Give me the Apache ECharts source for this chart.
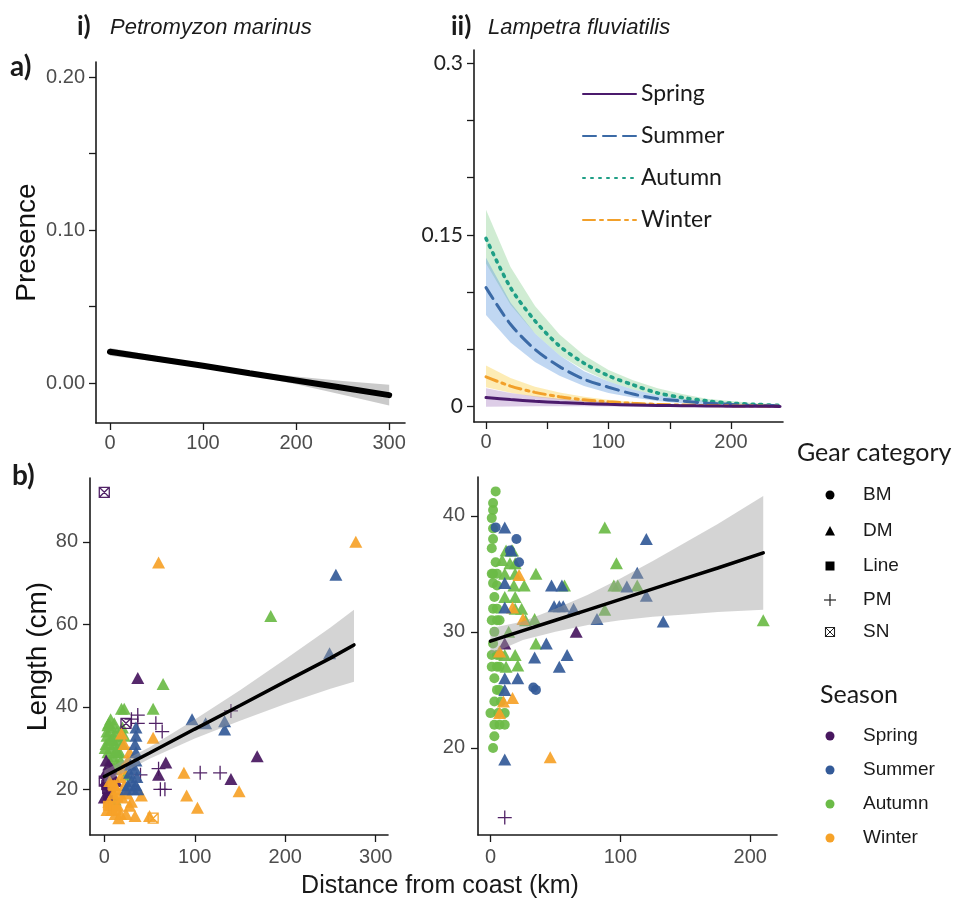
<!DOCTYPE html>
<html><head><meta charset="utf-8">
<script src="https://cdn.jsdelivr.net/npm/echarts@6/dist/echarts.min.js"></script>
<style>html,body{margin:0;padding:0;background:#fff}#c{width:958px;height:910px}</style>
</head><body><div id="c"></div>
<script>
// ================= DATA =================
const seasons = ['Spring', 'Summer', 'Autumn', 'Winter'];
const gears = ['BM', 'DM', 'Line', 'PM', 'SN'];

// a-i) Petromyzon marinus presence vs distance
const pmPresX  = [0, 50, 100, 150, 200, 250, 300];
const pmPresFit = [0.0205, 0.0160, 0.0114, 0.0065, 0.0018, -0.0030, -0.0078];
const pmPresLo  = [0.0180, 0.0142, 0.0102, 0.0053, -0.0007, -0.0075, -0.0146];
const pmPresHi  = [0.0230, 0.0178, 0.0126, 0.0077, 0.0043, 0.0015, -0.0010];

// a-ii) Lampetra fluviatilis presence vs distance, per season
const lfPresX = [0, 20, 40, 60, 80, 100, 120, 140, 160, 180, 200, 220, 240];
const lfSpringFit = [0.0080, 0.0062, 0.0047, 0.0036, 0.0027, 0.0020, 0.0015, 0.0011, 0.0008, 0.0006, 0.0004, 0.0003, 0.0002];
const lfSpringLo  = [0.0000, 0.0002, 0.0003, 0.0003, 0.0003, 0.0002, 0.0002, 0.0001, 0.0001, 0.0001, 0.0000, 0.0000, 0.0000];
const lfSpringHi  = [0.0160, 0.0120, 0.0092, 0.0070, 0.0053, 0.0040, 0.0030, 0.0022, 0.0016, 0.0012, 0.0009, 0.0006, 0.0004];
const lfSummerFit = [0.104, 0.072, 0.050, 0.035, 0.024, 0.017, 0.011, 0.007, 0.005, 0.003, 0.002, 0.001, 0.001];
const lfSummerLo  = [0.080, 0.056, 0.039, 0.027, 0.018, 0.012, 0.008, 0.005, 0.003, 0.002, 0.001, 0.0005, 0.0003];
const lfSummerHi  = [0.130, 0.091, 0.064, 0.045, 0.031, 0.022, 0.015, 0.010, 0.007, 0.005, 0.003, 0.002, 0.001];
const lfAutumnFit = [0.147, 0.104, 0.075, 0.053, 0.038, 0.027, 0.019, 0.012, 0.008, 0.005, 0.003, 0.002, 0.001];
const lfAutumnLo  = [0.125, 0.089, 0.064, 0.045, 0.032, 0.022, 0.015, 0.010, 0.006, 0.004, 0.002, 0.001, 0.0005];
const lfAutumnHi  = [0.172, 0.122, 0.088, 0.063, 0.045, 0.032, 0.023, 0.016, 0.011, 0.007, 0.005, 0.003, 0.002];
const lfWinterFit = [0.026, 0.018, 0.0125, 0.0087, 0.0060, 0.0042, 0.0029, 0.0020, 0.0014, 0.0010, 0.0007, 0.0005, 0.0003];
const lfWinterLo  = [0.017, 0.0121, 0.0086, 0.0060, 0.0041, 0.0028, 0.0019, 0.0013, 0.0009, 0.0006, 0.0004, 0.0003, 0.0002];
const lfWinterHi  = [0.036, 0.025, 0.0175, 0.0123, 0.0086, 0.0060, 0.0042, 0.0029, 0.0020, 0.0014, 0.0010, 0.0007, 0.0005];

// b-i) Petromyzon marinus length: [distance km, length cm, gear, season]
const pmLenPts = [
  [0,92,'SN','Spring'],[24,36,'SN','Spring'],[0,22,'SN','Spring'],[54,13,'SN','Winter'],
  [278,80,'DM','Winter'],[60,75,'DM','Winter'],[256,72,'DM','Summer'],[184,62,'DM','Autumn'],
  [249,53,'DM','Summer'],[37,47,'DM','Spring'],[65,45.5,'DM','Autumn'],[19,39.5,'DM','Autumn'],
  [22,39.5,'DM','Autumn'],[54,39.5,'DM','Autumn'],[97,37,'DM','Summer'],[112,36,'DM','Summer'],
  [133,36.5,'DM','Summer'],[133,34.5,'DM','Summer'],[169,28,'DM','Spring'],[140,22.5,'DM','Spring'],
  [149,19.5,'DM','Winter'],[88,24,'DM','Winter'],[91,18.5,'DM','Winter'],[103,15.5,'DM','Winter'],
  [68,26.5,'DM','Spring'],[60,23.5,'DM','Spring'],[54,32.5,'DM','Winter'],[34,13.5,'DM','Winter'],
  [41,18.5,'DM','Winter'],[50,13.5,'DM','Winter'],
  [140,39,'PM','Spring'],[106,24,'PM','Spring'],[128,24,'PM','Spring'],[62,20,'PM','Spring'],
  [67,20,'PM','Spring'],[60,25,'PM','Spring'],[37,38,'PM','Spring'],[37,36,'PM','Spring'],
  [57,36,'PM','Spring'],[64,34,'PM','Spring'],[40,23.5,'PM','Spring'],[30,37,'PM','Spring'],
  [35,35,'DM','Summer'],[35,33,'DM','Summer'],[34,31,'DM','Summer'],[35,29,'DM','Summer'],
  [35,27,'DM','Summer'],[34,25,'DM','Summer'],[36,23,'DM','Summer'],[35,21,'DM','Summer'],
  [32,20,'DM','Summer'],[37,20,'DM','Summer'],[30,22,'DM','Summer'],[29,26,'DM','Summer'],
  [28,24,'DM','Summer'],[26,21,'DM','Summer'],[24,20,'DM','Summer'],
  [5,36,'DM','Autumn'],[8,35,'DM','Autumn'],[3,34,'DM','Autumn'],[10,33,'DM','Autumn'],
  [6,32,'DM','Autumn'],[2,31,'DM','Autumn'],[12,31,'DM','Autumn'],[8,30,'DM','Autumn'],
  [4,29,'DM','Autumn'],[15,29,'DM','Autumn'],[10,28,'DM','Autumn'],[18,27,'DM','Autumn'],
  [6,27,'DM','Autumn'],[14,34,'DM','Autumn'],[11,36,'DM','Autumn'],[16,32,'DM','Autumn'],
  [20,31,'DM','Autumn'],[3,33,'DM','Autumn'],[7,37,'DM','Autumn'],[13,26,'DM','Autumn'],
  [9,25,'DM','Autumn'],[24,23.5,'DM','Autumn'],[12,17.5,'DM','Autumn'],[20,35,'DM','Autumn'],
  [17,29,'DM','Autumn'],[1,30,'DM','Autumn'],[4,35.5,'DM','Autumn'],[9,32,'DM','Autumn'],
  [13,29.5,'DM','Autumn'],[22,33,'DM','Autumn'],
  [2,27,'DM','Spring'],[5,26,'DM','Spring'],[1,24,'DM','Spring'],[8,25,'DM','Spring'],
  [3,22,'DM','Spring'],[0,18,'DM','Spring'],[6,19,'DM','Spring'],[10,23,'DM','Spring'],
  [13,22,'DM','Spring'],[4,23.5,'DM','Spring'],
  [3,20,'Line','Spring'],[7,20,'Line','Spring'],[4,18,'Line','Spring'],[2,21,'Line','Spring'],
  [5,17,'DM','Winter'],[8,15,'DM','Winter'],[12,14,'DM','Winter'],[15,16,'DM','Winter'],
  [18,14,'DM','Winter'],[20,18,'DM','Winter'],[22,21,'DM','Winter'],[25,19,'DM','Winter'],
  [28,16,'DM','Winter'],[10,19,'DM','Winter'],[14,20,'DM','Winter'],[18,23,'DM','Winter'],
  [26,27,'DM','Winter'],[28,29,'DM','Winter'],[20,25,'DM','Winter'],[6,22,'DM','Winter'],
  [16,13,'DM','Winter'],[24,14,'DM','Winter'],[30,17,'DM','Winter'],[3,15,'DM','Winter'],
  [11,21,'DM','Winter'],[22,31,'DM','Winter'],[19,33.5,'DM','Winter'],
  [4,16,'Line','Winter'],[10,16,'Line','Winter'],[15,18,'Line','Winter'],[9,21,'Line','Winter'],
  [13,15,'Line','Winter']
];
const pmLenFitX  = [0, 50, 100, 150, 200, 250, 276];
const pmLenFit   = [23.1, 28.8, 34.6, 40.3, 46.1, 51.8, 55.0];
const pmLenLo    = [21.6, 27.4, 32.3, 36.6, 40.7, 44.4, 46.1];
const pmLenHi    = [24.6, 30.2, 36.9, 44.0, 51.5, 59.2, 63.5];

// b-ii) Lampetra fluviatilis length
const lfLenPts = [
  [4,42.1,'BM','Autumn'],[2,41.1,'BM','Autumn'],[2,40.5,'BM','Autumn'],[1,39.8,'BM','Autumn'],
  [2,38.9,'BM','Autumn'],[2,38,'BM','Autumn'],[1,37.2,'BM','Autumn'],[4,36,'BM','Autumn'],
  [2,35,'BM','Autumn'],[5,35,'BM','Autumn'],[1,35,'BM','Autumn'],[2,34.2,'BM','Autumn'],
  [5,34,'BM','Autumn'],[3,33,'BM','Autumn'],[2,32,'BM','Autumn'],[5,32,'BM','Autumn'],
  [5,31,'BM','Autumn'],[7,31,'BM','Autumn'],[1,31,'BM','Autumn'],[3,30,'BM','Autumn'],
  [2,29,'BM','Autumn'],[1,28,'BM','Autumn'],[5,28,'BM','Autumn'],[7,28,'BM','Autumn'],
  [1,27,'BM','Autumn'],[5,27,'BM','Autumn'],[7,27,'BM','Autumn'],[3,26,'BM','Autumn'],
  [5,25,'BM','Autumn'],[7,25,'BM','Autumn'],[3,24,'BM','Autumn'],[8,24,'BM','Autumn'],
  [6,23,'BM','Autumn'],[0,23,'BM','Autumn'],[11,23,'BM','Autumn'],[3,22,'BM','Autumn'],
  [7,22,'BM','Autumn'],[11,22,'BM','Autumn'],[3,21,'BM','Autumn'],[2,20,'BM','Autumn'],
  [4,39,'BM','Summer'],[20,38,'BM','Summer'],[22,36,'BM','Summer'],[15,37,'BM','Summer'],
  [33,25.2,'BM','Summer'],[35,25,'BM','Summer'],
  [17,37,'DM','Autumn'],[12,37,'DM','Autumn'],[15,35.9,'DM','Autumn'],[19,35.9,'DM','Autumn'],
  [19,35,'DM','Autumn'],[11,35,'DM','Autumn'],[18,34,'DM','Autumn'],[26,34,'DM','Autumn'],
  [35,35,'DM','Autumn'],[19,33,'DM','Autumn'],[19,32,'DM','Autumn'],[24,32,'DM','Autumn'],
  [27,31,'DM','Autumn'],[34,31.1,'DM','Autumn'],[35,29,'DM','Autumn'],[19,28,'DM','Autumn'],
  [21,27.1,'DM','Autumn'],[12,27,'DM','Autumn'],[57,34,'DM','Autumn'],[88,39,'DM','Autumn'],
  [97,35.9,'DM','Autumn'],[98,34,'DM','Autumn'],[113,34,'DM','Autumn'],[88,31.9,'DM','Autumn'],
  [210,31,'DM','Autumn'],[11,33,'DM','Autumn'],[14,30,'DM','Autumn'],[11,28,'DM','Autumn'],
  [95,34,'DM','Autumn'],[9,36.2,'DM','Autumn'],
  [22,34.9,'DM','Winter'],[17,32.1,'DM','Winter'],[25,31.1,'DM','Winter'],[7,28.3,'DM','Winter'],
  [7,23,'DM','Winter'],[10,24,'DM','Winter'],[17,24.3,'DM','Winter'],[46,19.2,'DM','Winter'],
  [11,39,'DM','Summer'],[11,34.2,'DM','Summer'],[11,32.1,'DM','Summer'],[11,26,'DM','Summer'],
  [11,25,'DM','Summer'],[21,26,'DM','Summer'],[34,27.8,'DM','Summer'],[43,29,'DM','Summer'],
  [47,34,'DM','Summer'],[55,34,'DM','Summer'],[49,32.2,'DM','Summer'],[53,32.2,'DM','Summer'],
  [56,32.2,'DM','Summer'],[59,28,'DM','Summer'],[53,27,'DM','Summer'],[64,32,'DM','Summer'],
  [82,31.1,'DM','Summer'],[120,38,'DM','Summer'],[133,30.9,'DM','Summer'],[113,35.1,'DM','Summer'],
  [120,33.1,'DM','Summer'],[105,33.9,'DM','Summer'],[11,19,'DM','Summer'],[16,37,'DM','Summer'],
  [11,29,'DM','Spring'],[66,30,'DM','Spring'],
  [11,14,'PM','Spring']
];
const lfLenFitX = [0, 25, 50, 75, 100, 125, 150, 175, 210];
const lfLenFit  = [29.2, 30.1, 31.0, 31.9, 32.8, 33.7, 34.6, 35.5, 36.8];
const lfLenLo   = [28.1, 29.3, 30.0, 30.6, 31.0, 31.3, 31.5, 31.7, 31.9];
const lfLenHi   = [30.3, 30.9, 32.0, 33.2, 34.6, 36.1, 37.7, 39.3, 41.7];

// tick values
const pmPresXTicks = [0, 100, 200, 300];
const pmPresYTicks = [0, 0.05, 0.1, 0.15, 0.2];
const pmPresYLabels = [0, 0.1, 0.2];
const lfPresXTicks = [0, 50, 100, 150, 200];
const lfPresXLabels = [0, 100, 200];
const lfPresYTicks = [0, 0.05, 0.1, 0.15, 0.2, 0.25, 0.3];
const lfPresYLabels = [0, 0.15, 0.3];
const pmLenXTicks = [0, 100, 200, 300];
const pmLenYTicks = [20, 40, 60, 80];
const lfLenXTicks = [0, 100, 200];
const lfLenYTicks = [20, 30, 40];

// ================= STYLE =================
const seasonColor = {Spring:'#48175f', Summer:'#335a98', Autumn:'#6bbb47', Winter:'#f6a228'};
const lineColor = {Spring:'#4b1a6c', Summer:'#3b6aa6', Autumn:'#1f9f86', Winter:'#f2a02a'};
const bandColor = {Spring:'rgba(150,100,180,0.32)', Summer:'rgba(90,150,220,0.38)', Autumn:'rgba(120,200,130,0.35)', Winter:'rgba(250,205,60,0.38)'};
const lineDash = {Spring:'solid', Summer:[13,7], Autumn:[2,6], Winter:[12,5,3,5]};
const gearSymbol = {
  BM:'circle', DM:'triangle', Line:'rect',
  PM:'path://M0,5L10,5M5,0L5,10',
  SN:'path://M0,0L10,0L10,10L0,10Z M0,0L10,10 M10,0L0,10'
};
const gearSize = {BM:10, DM:[13,12], Line:10, PM:14, SN:10};
function gearItemStyle(g, c) {
  if (g === 'PM' || g === 'SN') return {color:'none', borderColor:c, borderWidth:1.3, opacity:0.95};
  return {color:c, opacity:0.92};
}

const AX = '#1a1a1a';
const sans = 'Liberation Sans, Arial, sans-serif';
function mkAxis(o) {
  return {
    type:'value', gridIndex:o.grid, min:o.min, max:o.max,
    axisLine:{show:true, onZero:false, lineStyle:{color:AX, width:1.6}},
    axisTick:{show:true, length:7, lineStyle:{color:AX, width:1.3}, customValues:o.ticks},
    splitLine:{show:false},
    axisLabel:{customValues:o.labels || o.ticks, color:o.labelColor || '#4d4d4d', fontFamily:o.font || sans,
               fontSize:o.fontSize || 20, margin:o.margin, formatter:o.fmt || (v => String(v))},
    name:o.name || '', nameLocation:'middle', nameGap:o.nameGap || 0,
    nameTextStyle:{fontFamily:sans, fontSize:28, color:'#111'}
  };
}

function band(name, gi, xs, lo, hi, color, z) {
  return {
    type:'custom', name, xAxisIndex:gi, yAxisIndex:gi, silent:true, z:z,
    data:[[xs[0], lo[0]]],
    renderItem:(params, api) => {
      const pts = [];
      for (let i = 0; i < xs.length; i++) pts.push(api.coord([xs[i], hi[i]]));
      for (let i = xs.length - 1; i >= 0; i--) pts.push(api.coord([xs[i], lo[i]]));
      return {type:'polygon', shape:{points:pts}, style:{fill:color}};
    }
  };
}
function fitLine(name, gi, xs, ys, color, width, dash, z, smooth) {
  return {
    type:'line', name, xAxisIndex:gi, yAxisIndex:gi, data:xs.map((x, i) => [x, ys[i]]),
    symbol:'none', showSymbol:false, smooth:smooth || false, silent:true, z:z,
    lineStyle:{color, width, type:dash || 'solid', cap:'round'}, itemStyle:{color}
  };
}
function scatters(pts, gi, prefix) {
  const out = [];
  ['Autumn', 'Spring', 'Winter', 'Summer'].forEach(s => gears.forEach(g => {
    const d = pts.filter(p => p[2] === g && p[3] === s).map(p => [p[0], p[1]]);
    if (!d.length) return;
    out.push({type:'scatter', name:prefix + ' ' + g + ' ' + s, xAxisIndex:gi, yAxisIndex:gi, data:d,
      symbol:gearSymbol[g], symbolSize:gearSize[g], itemStyle:gearItemStyle(g, seasonColor[s]), z:2, silent:true});
  }));
  return out;
}

// ================= CHART =================
const chart = echarts.init(document.getElementById('c'), null, {renderer:'canvas'});
const lfSeasonData = {
  Spring:[lfSpringFit, lfSpringLo, lfSpringHi], Summer:[lfSummerFit, lfSummerLo, lfSummerHi],
  Autumn:[lfAutumnFit, lfAutumnLo, lfAutumnHi], Winter:[lfWinterFit, lfWinterLo, lfWinterHi]
};

const series = [];
// a-i
series.push(band('pm band', 0, pmPresX, pmPresLo, pmPresHi, 'rgba(150,150,150,0.5)', 1));
series.push(fitLine('pm fit', 0, pmPresX, pmPresFit, '#000', 6, 'solid', 3));
// a-ii
['Autumn', 'Summer', 'Winter', 'Spring'].forEach(s => {
  series.push(band(s + ' band', 1, lfPresX, lfSeasonData[s][1], lfSeasonData[s][2], bandColor[s], 1));
});
['Autumn', 'Summer', 'Winter', 'Spring'].forEach(s => {
  series.push(fitLine(s, 1, lfPresX, lfSeasonData[s][0], lineColor[s], s === 'Autumn' ? 3.6 : 3, lineDash[s], 3, 0.3));
});
// b-i
series.push(...scatters(pmLenPts, 2, 'pm'));
series.push(band('pm len band', 2, pmLenFitX, pmLenLo, pmLenHi, 'rgba(160,160,160,0.45)', 3));
series.push(fitLine('pm len fit', 2, pmLenFitX, pmLenFit, '#000', 3.5, 'solid', 4));
// b-ii
series.push(...scatters(lfLenPts, 3, 'lf'));
series.push(band('lf len band', 3, lfLenFitX, lfLenLo, lfLenHi, 'rgba(160,160,160,0.45)', 3));
series.push(fitLine('lf len fit', 3, lfLenFitX, lfLenFit, '#000', 3.5, 'solid', 4));

// legend graphic (right side)
const legendX = 830, legendTextX = 863;
const gearRowsY = [495, 531, 566, 600, 632];
const seasonRowsY = [736, 770, 804, 838];
const gfx = [];
const txt = (x, y, text, font, extra) => ({type:'text', x, y, style:Object.assign({text, font, fill:'#1a1a1a', textVerticalAlign:'middle'}, extra || {}), silent:true});
gfx.push(txt(10, 67, 'a)', 'bold 28px Lato'));
gfx.push(txt(12, 476, 'b)', 'bold 28px Lato'));
gfx.push(txt(77, 27, 'i)', 'bold 26px Lato'));
gfx.push(txt(110, 28, 'Petromyzon marinus', 'italic 22px ' + sans));
gfx.push(txt(451, 27, 'ii)', 'bold 26px Lato'));
gfx.push(txt(488, 28, 'Lampetra fluviatilis', 'italic 22px ' + sans));
gfx.push(txt(440, 886, 'Distance from coast (km)', '25px ' + sans, {textAlign:'center'}));
gfx.push(txt(797, 453, 'Gear category', '25px Lato'));
gfx.push(txt(820, 695, 'Season', '25px Lato'));
gears.forEach((g, i) => {
  const y = gearRowsY[i];
  gfx.push(txt(legendTextX, y, g, '19px ' + sans));
  let shape;
  if (g === 'BM') shape = {type:'circle', shape:{cx:legendX, cy:y, r:4.5}, style:{fill:'#000'}};
  else if (g === 'DM') shape = {type:'polygon', shape:{points:[[legendX - 5, y + 4.5], [legendX + 5, y + 4.5], [legendX, y - 5]]}, style:{fill:'#000'}};
  else if (g === 'Line') shape = {type:'rect', shape:{x:legendX - 4.5, y:y - 4.5, width:9, height:9}, style:{fill:'#000'}};
  else if (g === 'PM') shape = {type:'group', children:[
    {type:'line', shape:{x1:legendX - 6, y1:y, x2:legendX + 6, y2:y}, style:{stroke:'#222', lineWidth:1.2}},
    {type:'line', shape:{x1:legendX, y1:y - 6, x2:legendX, y2:y + 6}, style:{stroke:'#222', lineWidth:1.2}}]};
  else shape = {type:'group', children:[
    {type:'rect', shape:{x:legendX - 4.5, y:y - 4.5, width:9, height:9}, style:{fill:'none', stroke:'#222', lineWidth:1.1}},
    {type:'line', shape:{x1:legendX - 4.5, y1:y - 4.5, x2:legendX + 4.5, y2:y + 4.5}, style:{stroke:'#222', lineWidth:1}},
    {type:'line', shape:{x1:legendX + 4.5, y1:y - 4.5, x2:legendX - 4.5, y2:y + 4.5}, style:{stroke:'#222', lineWidth:1}}]};
  shape.silent = true;
  gfx.push(shape);
});
seasons.forEach((s, i) => {
  const y = seasonRowsY[i];
  gfx.push({type:'circle', shape:{cx:legendX, cy:y, r:4.5}, style:{fill:seasonColor[s]}, silent:true});
  gfx.push(txt(legendTextX, y, s, '19px ' + sans));
});

const option = {
  animation:false,
  backgroundColor:'#fff',
  grid:[
    {left:96, top:62, width:309, height:361},
    {left:474, top:50, width:309, height:372},
    {left:90, top:478, width:298, height:357},
    {left:478, top:477, width:299, height:358}
  ],
  xAxis:[
    mkAxis({grid:0, min:-15, max:317, ticks:pmPresXTicks, margin:10}),
    mkAxis({grid:1, min:-9.8, max:242.4, ticks:lfPresXTicks, labels:lfPresXLabels, margin:10}),
    mkAxis({grid:2, min:-15.8, max:313.6, ticks:pmLenXTicks, margin:12}),
    mkAxis({grid:3, min:-9.6, max:220.6, ticks:lfLenXTicks, margin:12})
  ],
  yAxis:[
    mkAxis({grid:0, min:-0.026, max:0.2098, ticks:pmPresYTicks, labels:pmPresYLabels, margin:11,
            fmt:v => v.toFixed(2), name:'Presence', nameGap:55}),
    mkAxis({grid:1, min:-0.0134, max:0.3116, ticks:lfPresYTicks, labels:lfPresYLabels, margin:11,
            labelColor:'#222', font:'Lato', fontSize:21, fmt:v => (v === 0 ? '0' : String(v))}),
    mkAxis({grid:2, min:8.92, max:95.47, ticks:pmLenYTicks, margin:12, name:'Length (cm)', nameGap:35}),
    mkAxis({grid:3, min:12.5, max:43.34, ticks:lfLenYTicks, margin:13})
  ],
  legend:{
    data:seasons, orient:'vertical', left:577, top:77, itemWidth:53, itemHeight:14, itemGap:18,
    selectedMode:false, itemStyle:{opacity:0},
    textStyle:{fontFamily:'Lato', fontSize:23, color:'#1a1a1a', lineHeight:24}
  },
  graphic:gfx,
  series
};
chart.setOption(option);
</script>
</body></html>
